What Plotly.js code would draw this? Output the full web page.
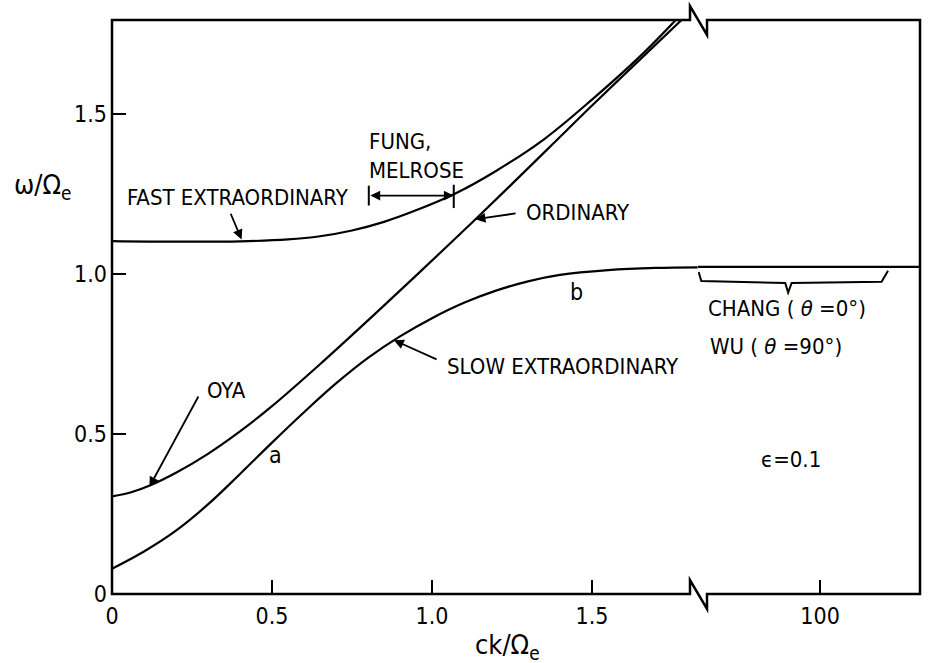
<!DOCTYPE html>
<html>
<head>
<meta charset="utf-8">
<script src="https://cdn.plot.ly/plotly-3.0.1.min.js"></script>
<style>html,body{margin:0;padding:0;background:#fff;}#chart{width:931px;height:663px;}</style>
</head>
<body>
<div id="chart"></div>
<script>
// ---- data ----
const fastX = [0, 0.2, 0.4, 0.55, 0.65, 0.75, 0.85, 0.95, 1.07, 1.2, 1.35, 1.5, 1.65, 1.762];
const fastY = [1.103, 1.101, 1.102, 1.108, 1.118, 1.136, 1.163, 1.199, 1.25, 1.322, 1.421, 1.545, 1.68, 1.794];

const ordX = [0, 0.06, 0.12, 0.2, 0.3, 0.4, 0.5, 0.65, 0.8, 0.95, 1.136, 1.366, 1.509, 1.78];
const ordY = [0.305, 0.318, 0.34, 0.379, 0.438, 0.508, 0.587, 0.718, 0.855, 0.995, 1.171, 1.395, 1.535, 1.794];

const slowX = [0, 0.1, 0.2, 0.3, 0.4, 0.5, 0.6, 0.7, 0.8, 0.9, 1.0, 1.1, 1.2, 1.3, 1.4, 1.55, 1.7, 1.83];
const slowY = [0.079, 0.133, 0.198, 0.28, 0.375, 0.473, 0.568, 0.658, 0.738, 0.805, 0.862, 0.91, 0.948, 0.977, 0.997, 1.012, 1.019, 1.021];

// beyond the axis break (ck/Ωe around 100)
const slowFarX = [45, 145];
const slowFarY = [1.022, 1.022];

const xTickVals = [0, 0.5, 1.0, 1.5];
const xTickText = ['0', '0.5', '1.0', '1.5'];
const x2TickVals = [100];
const x2TickText = ['100'];
const yTickVals = [0, 0.5, 1.0, 1.5];
const yTickText = ['0', '0.5', '1.0', '1.5'];

// ---- styling ----
const FONT = 'Liberation Sans Narrow, DejaVu Sans Condensed, Roboto Condensed, Liberation Sans, Arial, sans-serif';
const lineStyle = {color: '#000', width: 2.2};

const traces = [
  {x: fastX, y: fastY, mode: 'lines', line: Object.assign({shape: 'spline', smoothing: 1}, lineStyle), xaxis: 'x', yaxis: 'y', hoverinfo: 'skip'},
  {x: ordX, y: ordY, mode: 'lines', line: Object.assign({shape: 'spline', smoothing: 1}, lineStyle), xaxis: 'x', yaxis: 'y', hoverinfo: 'skip'},
  {x: slowX, y: slowY, mode: 'lines', line: Object.assign({shape: 'spline', smoothing: 1}, lineStyle), xaxis: 'x', yaxis: 'y', hoverinfo: 'skip'},
  {x: slowFarX, y: slowFarY, mode: 'lines', line: lineStyle, xaxis: 'x2', yaxis: 'y', hoverinfo: 'skip'}
];

const PW = 808, PH = 574;
const bx0 = 578 / PW, bx1 = 595 / PW;      // axis break zigzag
const up = 14 / PH, dn = 15 / PH;

const framePath =
  `M 0,1 L ${bx0},1 L ${bx0},${1 + up} L ${bx1},${1 - dn} L ${bx1},1 L 1,1 L 1,0 ` +
  `L ${bx1},0 L ${bx1},${-dn} L ${bx0},${up} L ${bx0},0 L 0,0 Z`;

const axisCommon = {
  showline: false, showgrid: false, zeroline: false,
  ticks: 'inside', ticklen: 14, tickwidth: 2, tickcolor: '#000',
  tickfont: {family: FONT, size: 23, color: '#000'},
  fixedrange: true
};

function txt(x, y, text, xanchor, xref, size) {
  return {x: x, y: y, xref: xref || 'x', yref: 'y', text: text, showarrow: false,
          xanchor: xanchor || 'left', yanchor: 'middle',
          font: {family: FONT, size: size || 22, color: '#000'}};
}
function arrow(x, y, ax, ay, head, side) {
  return {x: x, y: y, ax: ax, ay: ay, xref: 'x', yref: 'y', axref: 'x', ayref: 'y',
          text: '', showarrow: true, arrowhead: head, arrowsize: 1.1, arrowwidth: 1.8,
          arrowcolor: '#000', arrowside: side || 'end', standoff: 0, startstandoff: 0};
}

const annotations = [
  txt(0.04, 1.238, 'FAST EXTRAORDINARY'),
  arrow(0.405, 1.108, 0.369, 1.193, 2),
  {x: 0.797, y: 1.368, xref: 'x', yref: 'y', text: 'FUNG,<br>MELROSE', showarrow: false,
   xanchor: 'left', yanchor: 'middle', align: 'left', font: {family: FONT, size: 22, color: '#000'}},
  arrow(1.068, 1.245, 0.8025, 1.245, 2, 'end+start'),
  txt(1.288, 1.193, 'ORDINARY'),
  arrow(1.136, 1.171, 1.266, 1.19, 2),
  txt(1.042, 0.71, 'SLOW EXTRAORDINARY'),
  arrow(0.881, 0.793, 1.019, 0.731, 2),
  txt(0.29, 0.6375, 'OYA'),
  arrow(0.117, 0.335, 0.2725, 0.622, 2),
  txt(0.511, 0.434, 'a', 'center', 'x', 23),
  txt(1.453, 0.943, 'b', 'center', 'x', 23),
  txt(48.7, 0.8925, 'CHANG ( <i>θ</i> =0°)', 'left', 'x2'),
  txt(49.5, 0.774, 'WU ( <i>θ</i> =90°)', 'left', 'x2'),
  txt(72.6, 0.42, 'ϵ=0.1', 'left', 'x2'),
  {x: -0.086, y: 0.71, xref: 'paper', yref: 'paper', text: 'ω/Ω<sub>e</sub>', showarrow: false,
   xanchor: 'center', yanchor: 'middle', font: {family: FONT, size: 27, color: '#000'}},
  {x: 0.49, y: -0.092, xref: 'paper', yref: 'paper', text: 'ck/Ω<sub>e</sub>', showarrow: false,
   xanchor: 'center', yanchor: 'middle', font: {family: FONT, size: 27, color: '#000'}}
];

const shapes = [
  {type: 'path', xref: 'paper', yref: 'paper', path: framePath, line: {color: '#000', width: 2.5}, fillcolor: 'rgba(0,0,0,0)', layer: 'above'},
  // end bars of the FUNG, MELROSE range
  {type: 'line', xref: 'x', yref: 'y', x0: 0.8025, x1: 0.8025, y0: 1.214, y1: 1.276, line: {color: '#000', width: 2}},
  {type: 'line', xref: 'x', yref: 'y', x0: 1.068, x1: 1.068, y0: 1.206, y1: 1.279, line: {color: '#000', width: 2}},
  // brace for CHANG / WU
  {type: 'path', xref: 'x2', yref: 'y',
   path: 'M 45.3,1.006 L 46.5,0.978 L 84.3,0.972 L 85.6,0.942 L 87.2,0.972 L 127.7,0.976 L 130.6,1.01',
   line: {color: '#000', width: 2}}
];

const layout = {
  width: 931, height: 663,
  margin: {l: 112, r: 11, t: 20, b: 69, pad: 0},
  paper_bgcolor: '#fff', plot_bgcolor: '#fff',
  showlegend: false,
  xaxis: Object.assign({}, axisCommon, {domain: [0, 586 / PW], range: [0, 586 / 320],
          tickvals: xTickVals, ticktext: xTickText, anchor: 'y', ticklabelstandoff: 6}),
  xaxis2: Object.assign({}, axisCommon, {domain: [586 / PW, 1], range: [45, 145],
          tickvals: x2TickVals, ticktext: x2TickText, anchor: 'y', ticklabelstandoff: 6}),
  yaxis: Object.assign({}, axisCommon, {domain: [0, 1], range: [0, PH / 320],
          tickvals: yTickVals, ticktext: yTickText, anchor: 'x', ticklabelstandoff: 4}),
  annotations: annotations,
  shapes: shapes
};

Plotly.newPlot('chart', traces, layout, {displayModeBar: false, staticPlot: true});
</script>
</body>
</html>
